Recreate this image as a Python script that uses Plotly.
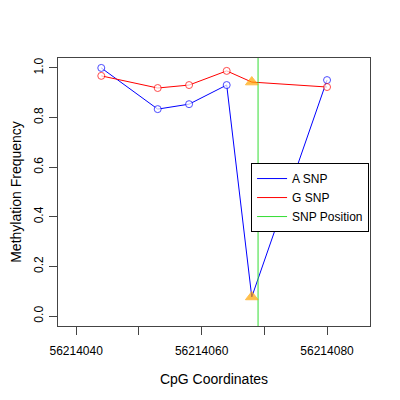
import plotly.graph_objects as go

# CpG positions and methylation frequencies
positions = [56214044, 56214053, 56214058, 56214064, 56214068, 56214080]
a_snp = [1.0, 0.834, 0.854, 0.931, 0.077, 0.951]
g_snp = [0.968, 0.919, 0.931, 0.988, 0.943, 0.923]
snp_position = 56214069
snp_cpg = 56214068

x_ticks = [56214040, 56214050, 56214060, 56214070, 56214080]
x_labels = ['56214040', '', '56214060', '', '56214080']
y_ticks = [0.0, 0.2, 0.4, 0.6, 0.8, 1.0]

x_range = [56214037.1, 56214086.85]
y_range = [-0.04, 1.04]

font = 'Liberation Sans, Arial, sans-serif'


def marker_style(color):
    sym = ['triangle-up' if p == snp_cpg else 'circle' for p in positions]
    fill = ['orange' if p == snp_cpg else 'white' for p in positions]
    edge = ['orange' if p == snp_cpg else color for p in positions]
    size = [11 if p == snp_cpg else 7 for p in positions]
    return dict(symbol=sym, color=fill, size=size,
                line=dict(color=edge, width=1))


fig = go.Figure()

# lines (legend entries)
fig.add_trace(go.Scatter(x=positions, y=a_snp, mode='lines', name='A SNP',
                         line=dict(color='blue', width=1)))
fig.add_trace(go.Scatter(x=positions, y=g_snp, mode='lines', name='G SNP',
                         line=dict(color='red', width=1)))
fig.add_trace(go.Scatter(x=[snp_position, snp_position], y=y_range, mode='lines',
                         name='SNP Position', line=dict(color='#33dd33', width=1)))

# point markers
fig.add_trace(go.Scatter(x=positions, y=a_snp, mode='markers', showlegend=False,
                         marker=marker_style('blue')))
fig.add_trace(go.Scatter(x=positions, y=g_snp, mode='markers', showlegend=False,
                         marker=marker_style('red')))

# page body adds ~8px offset, so margins are shifted up/left
fig.update_layout(
    width=400, height=400,
    margin=dict(l=50, r=38, t=50, b=82),
    paper_bgcolor='white', plot_bgcolor='white',
    font=dict(family=font, size=12, color='black'),
    legend=dict(x=0.997, y=0.608, xanchor='right', yanchor='top',
                bordercolor='black', borderwidth=1, bgcolor='white',
                font=dict(size=12), tracegroupgap=0),
)

fig.update_xaxes(
    range=x_range, tickvals=x_ticks, ticktext=x_labels, automargin=False,
    showgrid=False, zeroline=False,
    showline=True, mirror=True, linecolor='#444', linewidth=1,
    ticks='outside', ticklen=8, tickcolor='#444', ticklabelstandoff=6,
    title=dict(text='CpG Coordinates', standoff=16),
)
fig.update_yaxes(
    range=y_range, tickvals=y_ticks, tickformat='.1f', tickangle=-90, automargin=False,
    showgrid=False, zeroline=False,
    showline=True, mirror=True, linecolor='#444', linewidth=1,
    ticks='outside', ticklen=8, tickcolor='#444', ticklabelstandoff=1,
    title=dict(text='Methylation Frequency', standoff=12),
)

fig.write_html('out.html')
